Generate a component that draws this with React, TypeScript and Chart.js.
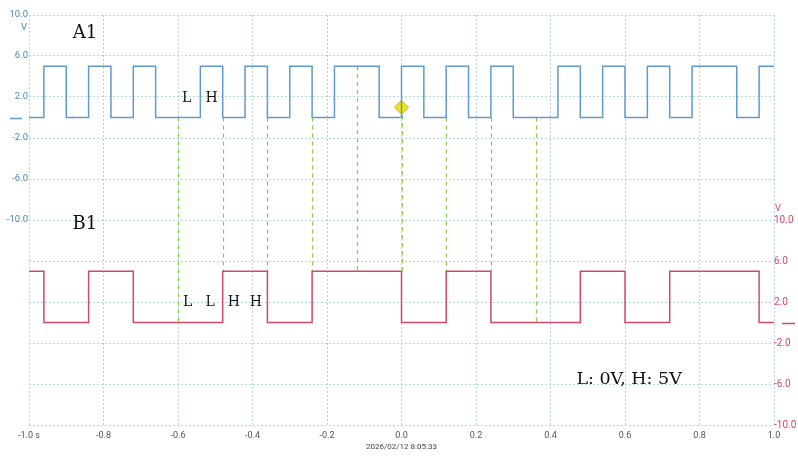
import React, { useEffect, useRef } from "react";
import { Chart, registerables } from "chart.js";

Chart.register(...registerables);

// ---- data ----
const A1_TIMES = [-1, -0.96, -0.9, -0.84, -0.78, -0.72, -0.66, -0.54, -0.48, -0.42, -0.36, -0.3, -0.24, -0.18, -0.06, 0, 0.06, 0.12, 0.18, 0.24, 0.3, 0.42, 0.48, 0.54, 0.6, 0.66, 0.72, 0.78, 0.9, 0.96, 1.0];
const A1_VOLTS = [0, 5, 0, 5, 0, 5, 0, 5, 0, 5, 0, 5, 0, 5, 0, 5, 0, 5, 0, 5, 0, 5, 0, 5, 0, 5, 0, 5, 0, 5, 5];

const B1_TIMES = [-1, -0.96, -0.84, -0.72, -0.48, -0.36, -0.24, 0, 0.12, 0.24, 0.48, 0.6, 0.72, 0.96, 1.0];
const B1_VOLTS = [5, 0, 5, 0, 5, 0, 5, 0, 5, 0, 5, 0, 5, 0, 0];

const CURSOR_TIMES = [-0.6, -0.48, -0.36, -0.24, -0.12, 0, 0.12, 0.24, 0.36];
const CURSOR_FROM_A1 = [0, 0, 0, 0, 5, 1, 0, 0, 0];
const CURSOR_TO_B1 = [0, 5, 5, 5, 5, 5, 5, 5, 0];

const TRIGGER_TIME = [0];
const TRIGGER_VOLT = [1.0];

const X_TICKS = [-1.0, -0.8, -0.6, -0.4, -0.2, 0, 0.2, 0.4, 0.6, 0.8, 1.0];
const A_GRID = [10, 6, 2, -2, -6, -10, -14, -18, -22, -26, -30];
const B_GRID = [30, 26, 22, 18, 14, 10, 6, 2, -2, -6, -10];
const LABELLED_MIN = -10;
const LABELLED_MAX = 10;

const TIMESTAMP = "2026/02/12 8:05:33";

const A1_BIT_TEXT = ["L", "H"];
const A1_BIT_TIMES = [-0.577, -0.51];
const A1_BIT_VOLTS = [1.9, 1.9];

const B1_BIT_TEXT = ["L", "L", "H", "H"];
const B1_BIT_TIMES = [-0.574, -0.514, -0.45, -0.391];
const B1_BIT_VOLTS = [2.0, 2.0, 2.0, 2.0];

const CH_NAMES = ["A1", "B1"];
const CH_NAME_TIMES = [-0.85, -0.85];
const CH_NAME_VOLTS = [8.2, 9.6]; // A1 on left axis, B1 on right axis

const LEGEND_TEXT = "L: 0V, H: 5V";
const LEGEND_TIME = 0.611;
const LEGEND_VOLT = -5.6; // right axis

// ---- styles ----
const BLUE = "#5f9bcb";
const BLUE_TEXT = "#4a8ab9";
const RED = "#cf4a6a";
const RED_TEXT = "#d4486c";
const GREEN = "#88c64a";
const GRID = "#b9d6dd";
const SERIF = "'DejaVu Serif', serif";
const SANS = "Roboto, 'Noto Sans', sans-serif";

const overlayPlugin = {
  id: "overlay",
  beforeDatasetsDraw(chart: any) {
    const { ctx, scales } = chart;
    const x = scales.x, yA = scales.yA, yB = scales.yB;
    ctx.save();
    ctx.strokeStyle = GREEN;
    ctx.lineWidth = 1.2;
    ctx.setLineDash([4, 4]);
    CURSOR_TIMES.forEach((t, i) => {
      const px = Math.round(x.getPixelForValue(t)) + 0.5;
      ctx.beginPath();
      ctx.moveTo(px, yA.getPixelForValue(CURSOR_FROM_A1[i]));
      ctx.lineTo(px, yB.getPixelForValue(CURSOR_TO_B1[i]));
      ctx.stroke();
    });
    ctx.restore();
  },
  afterDraw(chart: any) {
    const { ctx, scales, chartArea } = chart;
    const x = scales.x, yA = scales.yA, yB = scales.yB;
    ctx.save();
    ctx.fillStyle = "#111";
    ctx.textAlign = "center";
    ctx.textBaseline = "middle";

    // channel names
    ctx.font = `18px ${SERIF}`;
    ctx.fillText(CH_NAMES[0], x.getPixelForValue(CH_NAME_TIMES[0]), yA.getPixelForValue(CH_NAME_VOLTS[0]));
    ctx.fillText(CH_NAMES[1], x.getPixelForValue(CH_NAME_TIMES[1]), yB.getPixelForValue(CH_NAME_VOLTS[1]));

    // bit labels
    ctx.font = `14px ${SERIF}`;
    A1_BIT_TEXT.forEach((s, i) => {
      ctx.fillText(s, x.getPixelForValue(A1_BIT_TIMES[i]), yA.getPixelForValue(A1_BIT_VOLTS[i]));
    });
    B1_BIT_TEXT.forEach((s, i) => {
      ctx.fillText(s, x.getPixelForValue(B1_BIT_TIMES[i]), yB.getPixelForValue(B1_BIT_VOLTS[i]));
    });

    // legend text
    ctx.font = `17.5px ${SERIF}`;
    ctx.fillText(LEGEND_TEXT, x.getPixelForValue(LEGEND_TIME), yB.getPixelForValue(LEGEND_VOLT));

    // unit labels
    ctx.font = `9.5px ${SANS}`;
    ctx.fillStyle = BLUE_TEXT;
    ctx.textAlign = "right";
    ctx.fillText("V", chartArea.left - 2, yA.getPixelForValue(LABELLED_MAX) + 13);
    ctx.fillStyle = RED_TEXT;
    ctx.textAlign = "left";
    ctx.fillText("V", chartArea.right + 1, yB.getPixelForValue(LABELLED_MAX) - 11);

    // zero-level markers
    ctx.lineWidth = 1.5;
    ctx.strokeStyle = BLUE;
    const ya0 = Math.round(yA.getPixelForValue(0)) + 0.5;
    ctx.beginPath();
    ctx.moveTo(chartArea.left - 19, ya0);
    ctx.lineTo(chartArea.left - 7, ya0);
    ctx.stroke();
    ctx.strokeStyle = RED;
    const yb0 = Math.round(yB.getPixelForValue(0)) + 0.5;
    ctx.beginPath();
    ctx.moveTo(chartArea.right + 8, yb0);
    ctx.lineTo(chartArea.right + 21, yb0);
    ctx.stroke();

    // timestamp
    ctx.fillStyle = "#444";
    ctx.textAlign = "center";
    ctx.font = `8px ${SANS}`;
    ctx.fillText(TIMESTAMP, x.getPixelForValue(0), chartArea.bottom + 22);
    ctx.restore();
  },
};

export default function App() {
  const ref = useRef<HTMLCanvasElement | null>(null);

  useEffect(() => {
    if (!ref.current) return;
    const chart = new Chart(ref.current, {
      type: "line",
      data: {
        datasets: [
          {
            label: "A1",
            data: A1_TIMES.map((t, i) => ({ x: t, y: A1_VOLTS[i] })),
            yAxisID: "yA",
            stepped: true,
            borderColor: BLUE,
            borderWidth: 1.5,
            pointRadius: 0,
            fill: false,
          },
          {
            label: "B1",
            data: B1_TIMES.map((t, i) => ({ x: t, y: B1_VOLTS[i] })),
            yAxisID: "yB",
            stepped: true,
            borderColor: RED,
            borderWidth: 1.5,
            pointRadius: 0,
            fill: false,
          },
          {
            label: "trigger",
            data: TRIGGER_TIME.map((t, i) => ({ x: t, y: TRIGGER_VOLT[i] })),
            yAxisID: "yA",
            showLine: false,
            pointStyle: "rectRot",
            pointRadius: 7,
            pointBackgroundColor: "#f3e516",
            pointBorderColor: "#cdb800",
            pointBorderWidth: 1,
          },
        ],
      } as any,
      options: {
        responsive: false,
        animation: false,
        layout: { padding: { top: 15, left: 0, right: 0, bottom: 0 } },
        plugins: { legend: { display: false }, tooltip: { enabled: false } },
        scales: {
          x: {
            type: "linear",
            min: -1,
            max: 1,
            afterBuildTicks: (s: any) => {
              s.ticks = X_TICKS.map((v) => ({ value: v }));
            },
            afterFit: (s: any) => {
              s.height = 32;
            },
            grid: { color: GRID, lineWidth: 1, drawTicks: false, borderDash: [2, 2] },
            border: { display: false, dash: [2, 2] },
            ticks: {
              padding: 5,
              color: "#555",
              font: { family: SANS, size: 9 },
              maxRotation: 0,
              autoSkip: false,
              callback: (v: any) => {
                const n = Number(v);
                return n === -1 ? "-1.0 s" : n.toFixed(1);
              },
            },
          },
          yA: {
            type: "linear",
            position: "left",
            min: -30,
            max: 10,
            afterBuildTicks: (s: any) => {
              s.ticks = A_GRID.map((v) => ({ value: v }));
            },
            afterFit: (s: any) => {
              s.width = 29;
            },
            grid: { color: GRID, lineWidth: 1, drawTicks: false, borderDash: [2, 2] },
            border: { display: false, dash: [2, 2] },
            ticks: {
              padding: 1,
              color: BLUE_TEXT,
              font: { family: SANS, size: 9.5 },
              autoSkip: false,
              callback: (v: any) => {
                const n = Number(v);
                return n >= LABELLED_MIN && n <= LABELLED_MAX ? n.toFixed(1) : "";
              },
            },
          },
          yB: {
            type: "linear",
            position: "right",
            min: -10,
            max: 30,
            afterBuildTicks: (s: any) => {
              s.ticks = B_GRID.map((v) => ({ value: v }));
            },
            afterFit: (s: any) => {
              s.width = 24;
            },
            grid: { display: false, drawTicks: false },
            border: { display: false },
            ticks: {
              padding: 0,
              color: RED_TEXT,
              font: { family: SANS, size: 10 },
              autoSkip: false,
              callback: (v: any) => {
                const n = Number(v);
                return n >= LABELLED_MIN && n <= LABELLED_MAX ? n.toFixed(1) : "";
              },
            },
          },
        },
      } as any,
      plugins: [overlayPlugin as any],
    });
    return () => chart.destroy();
  }, []);

  return (
    <div style={{ position: "absolute", left: 0, top: 0, width: 798, height: 457, background: "#fff" }}>
      <canvas ref={ref} width={798} height={457} style={{ display: "block" }} />
    </div>
  );
}
